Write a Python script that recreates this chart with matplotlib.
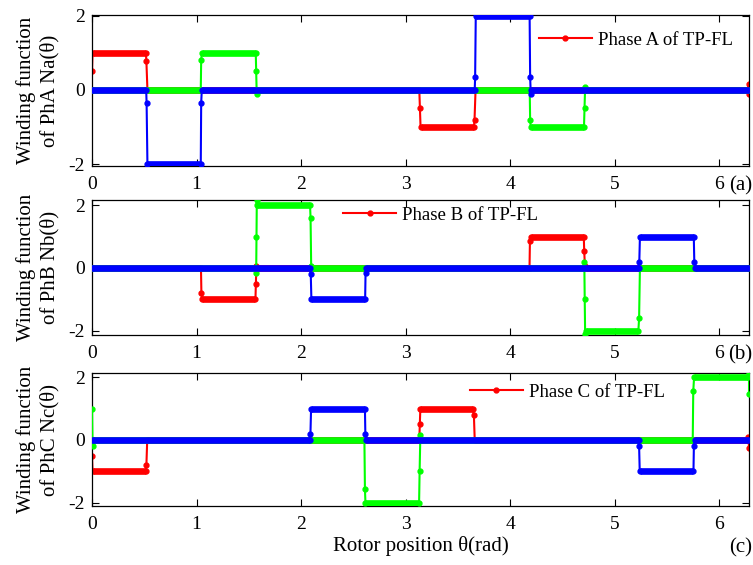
import numpy as np
import matplotlib.pyplot as plt

plt.rcParams['font.family'] = ['Liberation Serif', 'DejaVu Serif']
plt.rcParams['axes.unicode_minus'] = False

# winding functions: vertices (theta in rad, value)
# panel (a) phase A
a_red_x = [0, 0.005, 0.515, 0.520, 0.530, 3.130, 3.136, 3.142, 3.652, 3.658, 3.668, 6.270, 6.281, 6.283]
a_red_y = [0.50, 1.00, 1.00, 0.77, 0, 0, -0.50, -1.00, -1.00, -0.82, 0, 0, 0.15, -0.10]
a_green_x = [0, 1.040, 1.044, 1.050, 1.566, 1.570, 1.575, 1.580, 4.186, 4.190, 4.196, 4.705, 4.710, 4.716, 4.722, 6.283]
a_green_y = [0, 0, 0.80, 1.00, 1.00, 0.50, -0.10, 0, 0, -0.82, -1.00, -1.00, -0.50, 0.08, 0, 0]
a_blue_x = [0, 0.518, 0.522, 0.530, 1.040, 1.044, 1.050, 3.660, 3.664, 3.670, 4.185, 4.190, 4.196, 4.200, 6.283]
a_blue_y = [0, 0, -0.35, -2.00, -2.00, -0.35, 0, 0, 0.35, 2.00, 2.00, 0.35, -0.12, 0, 0]

# panel (b) phase B
b_red_x = [0, 1.042, 1.046, 1.052, 1.563, 1.567, 1.572, 1.577, 4.184, 4.188, 4.194, 4.703, 4.707, 4.714, 4.720, 6.283]
b_red_y = [0, 0, -0.78, -1.00, -1.00, -0.50, 0.05, 0, 0, 0.85, 1.00, 1.00, 0.55, 0.05, 0, 0]
b_green_x = [0, 1.566, 1.570, 1.573, 1.576, 1.582, 2.085, 2.090, 2.096, 2.100, 4.705, 4.708, 4.712, 4.716, 4.722, 5.225, 5.232, 5.240, 6.283]
b_green_y = [0, 0, -0.15, 1.00, 2.15, 2.00, 2.00, 1.60, 0.05, 0, 0, 0.20, -1.00, -2.10, -2.00, -2.00, -1.60, 0, 0]
b_blue_x = [0, 2.088, 2.092, 2.098, 2.612, 2.616, 2.622, 5.230, 5.234, 5.240, 5.755, 5.760, 5.766, 6.283]
b_blue_y = [0, 0, -0.20, -1.00, -1.00, -0.15, 0, 0, 0.20, 1.00, 1.00, 0.20, 0, 0]

# panel (c) phase C
c_red_x = [0, 0.005, 0.515, 0.520, 0.528, 3.130, 3.135, 3.140, 3.645, 3.652, 3.660, 6.270, 6.278, 6.283]
c_red_y = [-0.50, -1.00, -1.00, -0.80, 0, 0, 0.50, 1.00, 1.00, 0.80, 0, 0, 0.10, -0.25]
c_green_x = [0, 0.005, 0.010, 2.605, 2.610, 2.615, 3.128, 3.133, 3.140, 3.146, 5.745, 5.750, 5.758, 6.275, 6.283, 6.283]
c_green_y = [1.00, -0.18, 0, 0, -1.55, -2.00, -2.00, -1.00, 0.15, 0, 0, 1.55, 2.00, 2.00, 2.12, 1.46]
c_blue_x = [0, 2.085, 2.089, 2.095, 2.610, 2.614, 2.620, 5.228, 5.232, 5.238, 5.752, 5.756, 5.762, 6.283]
c_blue_y = [0, 0, 0.20, 1.00, 1.00, 0.20, 0, 0, -0.18, -1.00, -1.00, -0.18, 0, 0]

panels = [
    ((a_red_x, a_red_y), (a_green_x, a_green_y), (a_blue_x, a_blue_y)),
    ((b_red_x, b_red_y), (b_green_x, b_green_y), (b_blue_x, b_blue_y)),
    ((c_red_x, c_red_y), (c_green_x, c_green_y), (c_blue_x, c_blue_y)),
]
ylabels = ['Winding function\nof PhA Na(\u03b8)', 'Winding function\nof PhB Nb(\u03b8)',
           'Winding function\nof PhC Nc(\u03b8)']
legend_labels = ['Phase A of TP-FL', 'Phase B of TP-FL', 'Phase C of TP-FL']
tags = ['(a)', '(b)', '(c)']
xticks = [0, 1, 2, 3, 4, 5, 6]
yticks = [-2, 0, 2]

colors = ['#ff0000', '#00ff00', '#0000ff']
# layout: [left, bottom, width, height], ylim, legend anchor, tag y
boxes = [[0.1222, 0.7062, 0.8725, 0.2673],
         [0.1222, 0.4071, 0.8725, 0.2389],
         [0.1222, 0.1044, 0.8725, 0.2354]]
ylims = [(-2.05, 2.02), (-2.13, 2.16), (-2.1, 2.13)]
leg_pos = [(0.680, 0.834), (0.382, 0.889), (0.575, 0.857)]
tag_y = [-0.132, -0.148, -0.316]


def draw(ax, xs, ys, color, z, label=None):
    xs = np.asarray(xs)
    ys = np.asarray(ys)
    ax.plot(xs, ys, color=color, lw=1.5, marker='.', ms=7, zorder=z, label=label)
    # flat stretches look thick in the original (densely sampled)
    for i in range(len(xs) - 1):
        if xs[i + 1] - xs[i] > 0.02:
            ax.plot(xs[i:i + 2], ys[i:i + 2], color=color, lw=4.8,
                    solid_capstyle='butt', zorder=z)


fig = plt.figure(figsize=(7.53, 5.65), dpi=100)
for k in range(3):
    ax = fig.add_axes(boxes[k])
    for j, (xs, ys) in enumerate(panels[k]):
        draw(ax, xs, ys, colors[j], 2 + j, label=legend_labels[k] if j == 0 else None)
    ax.set_xlim(0, 2 * np.pi)
    ax.set_ylim(*ylims[k])
    ax.set_xticks(xticks)
    ax.set_yticks(yticks)
    ax.tick_params(direction='in', top=True, right=True, length=5, labelsize=14)
    ax.tick_params(axis='x', pad=7)
    ax.tick_params(axis='y', pad=5)
    for s in ax.spines.values():
        s.set_linewidth(0.9)
    ax.set_ylabel(ylabels[k], fontsize=15, linespacing=1.25)
    ax.yaxis.set_label_coords(-0.05, 0.5)
    ax.legend(loc='center left', bbox_to_anchor=leg_pos[k], frameon=False,
              fontsize=13.5, borderpad=0, borderaxespad=0, handlelength=2.83,
              handletextpad=0.32, numpoints=1)
    ax.text(1.005, tag_y[k], tags[k], transform=ax.transAxes, ha='right',
            va='center', fontsize=15)
    if k == 2:
        ax.set_xlabel('Rotor position \u03b8(rad)', fontsize=15, labelpad=2)

fig.savefig('out.png', dpi=100)
